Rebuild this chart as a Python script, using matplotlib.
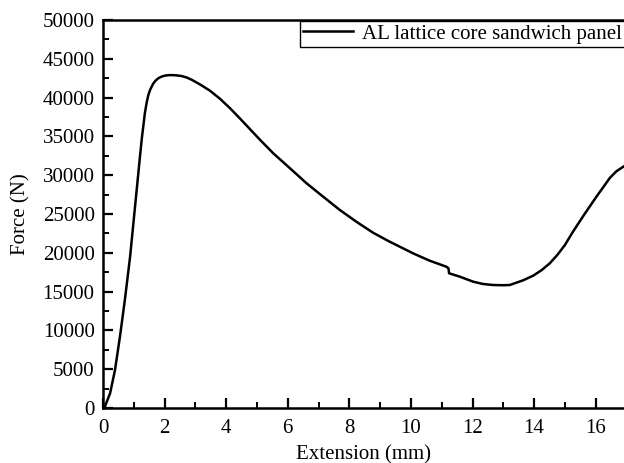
import matplotlib
matplotlib.use("Agg")
import matplotlib.pyplot as plt
from matplotlib.ticker import MultipleLocator

extension = [0, 0.06, 0.23, 0.39, 0.55, 0.71, 0.88, 1.04, 1.20, 1.26, 1.36, 1.42, 1.47, 1.53,
             1.63, 1.71, 1.80, 1.90, 2.01, 2.12, 2.23, 2.38, 2.55, 2.71, 2.88, 3.15,
             3.47, 3.8, 4.12, 4.45, 4.77, 5.10, 5.53, 6.07, 6.61, 7.15, 7.69, 8.23,
             8.77, 9.31, 9.53, 10.07, 10.61, 11.15, 11.22, 11.24, 11.59, 12.02, 12.34,
             12.67, 13.0, 13.21, 13.64, 13.97, 14.24, 14.51, 14.75, 15.0, 15.26, 15.64,
             16.02, 16.46, 16.67, 16.92]
force = [0, 170, 1890, 4900, 9190, 13920, 19500, 25940, 32380, 34700, 38000, 39400, 40300, 41000,
         41800, 42200, 42500, 42700, 42830, 42890, 42900, 42870, 42780, 42600, 42300, 41700,
         40900, 39850, 38650, 37300, 35950, 34560, 32820, 30900, 28960, 27230, 25520, 24000,
         22590, 21430, 21000, 19930, 18980, 18210, 18000, 17360, 16920, 16280, 15980,
         15850, 15820, 15850, 16450, 17050, 17750, 18650, 19700, 21000, 22700, 25000,
         27200, 29650, 30500, 31150]

series_label = "AL lattice core sandwich panel"
x_label = "Extension (mm)"
y_label = "Force (N)"

plt.rcParams['font.family'] = ['Liberation Serif', 'DejaVu Serif']
plt.rcParams['font.size'] = 15

fig = plt.figure(figsize=(6.24, 4.63), dpi=100)
ax = fig.add_axes([103/624, 55/463, 1 - 103/624, 388/463])

ax.plot(extension, force, color='black', lw=1.8, label=series_label,
        solid_joinstyle='round')

ax.set_xlim(0, 16.92)
ax.set_ylim(0, 50000)
ax.xaxis.set_major_locator(MultipleLocator(2))
ax.xaxis.set_minor_locator(MultipleLocator(1))
ax.yaxis.set_major_locator(MultipleLocator(5000))
ax.yaxis.set_minor_locator(MultipleLocator(2500))
ax.tick_params(which='major', direction='in', length=7, width=1.6)
ax.tick_params(axis='x', which='major', pad=8)
ax.tick_params(axis='y', which='major', pad=6)
ax.tick_params(which='minor', direction='in', length=4, width=1.4)
ax.tick_params(top=False, right=False, which='both')
for s in ['left', 'bottom', 'top']:
    ax.spines[s].set_linewidth(1.8)
ax.spines['right'].set_visible(False)

ax.set_xlabel(x_label, labelpad=5)
ax.set_ylabel(y_label, labelpad=9)

leg = ax.legend(loc='upper left', bbox_to_anchor=(300/624, 1 - 21/463),
                bbox_transform=fig.transFigure, borderaxespad=0, fancybox=False,
                framealpha=1, edgecolor='black', handlelength=2.4, handletextpad=0.43,
                borderpad=0.15)
leg.get_frame().set_linewidth(1.0)

fig.savefig("out.png", dpi=100)
